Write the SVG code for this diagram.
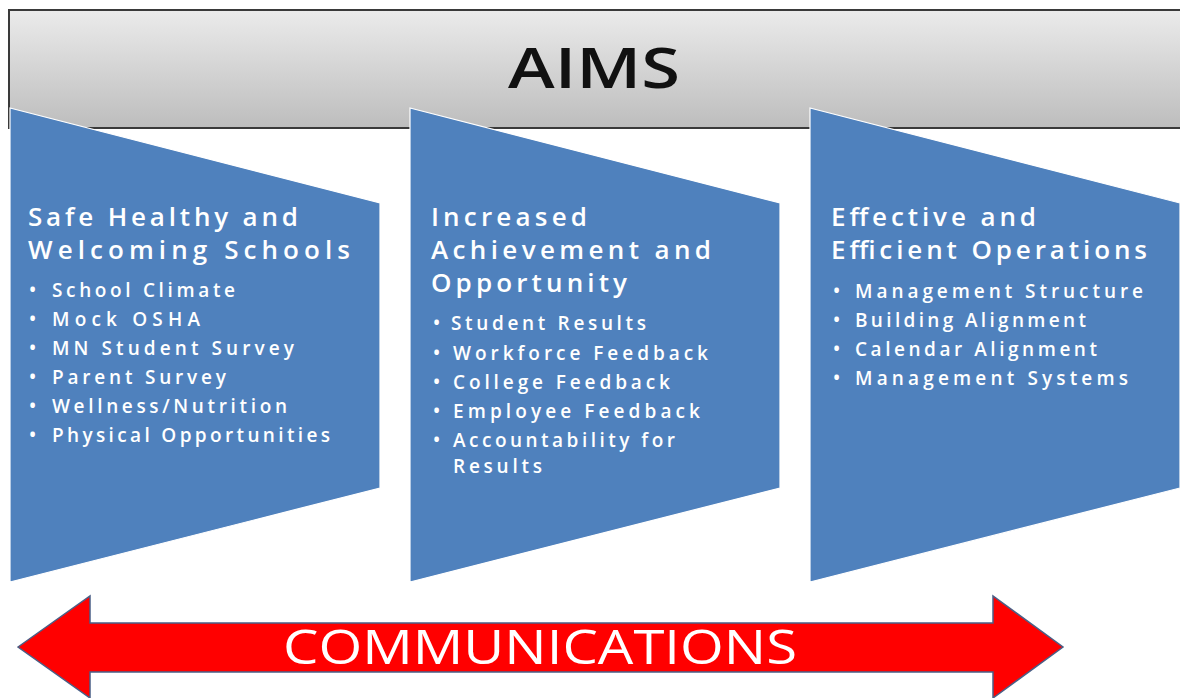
<svg xmlns="http://www.w3.org/2000/svg" width="1180" height="698" viewBox="0 0 1180 698">
  <defs>
    <linearGradient id="bannerFill" x1="0" y1="0" x2="0" y2="1">
      <stop offset="0" stop-color="#ebebeb"/>
      <stop offset="1" stop-color="#bdbdbd"/>
    </linearGradient>
    <style>
      .panel { fill: #4f81bd; stroke: #ffffff; stroke-width: 1.2; }
      .title { font-family: "Open Sans", "Liberation Sans", sans-serif; font-weight: 600; font-size: 26px; fill: #ffffff; }
      .item { font-family: "Open Sans", "Liberation Sans", sans-serif; font-weight: 600; font-size: 19px; fill: #ffffff; }
      .aims { font-family: "Open Sans", "Liberation Sans", sans-serif; font-weight: 600; font-size: 56px; fill: #111111; }
      .comm { font-family: "Open Sans", "Liberation Sans", sans-serif; font-weight: 400; font-size: 48px; fill: #ffffff; }
    </style>
  </defs>

  <rect width="1180" height="698" fill="#ffffff"/>

  <!-- header banner -->
  <g id="banner">
    <rect x="9" y="10" width="1180" height="118" fill="url(#bannerFill)" stroke="#3a3a3a" stroke-width="2"/>
    <text class="aims" x="594" y="88" text-anchor="middle" textLength="172" lengthAdjust="spacingAndGlyphs">AIMS</text>
  </g>

  <!-- panel 1 -->
  <g id="panel-safe">
    <polygon class="panel" points="10,108 380,203 380,488 10,582"/>
    <text class="title" x="28" y="226" textLength="270" lengthAdjust="spacing">Safe Healthy and</text>
    <text class="title" x="28" y="259" textLength="322" lengthAdjust="spacing">Welcoming  Schools</text>
    <g class="item">
      <text x="29" y="297">•</text><text x="52" y="297" textLength="183" lengthAdjust="spacing">School Climate</text>
      <text x="29" y="326">•</text><text x="52" y="326" textLength="148" lengthAdjust="spacing">Mock OSHA</text>
      <text x="29" y="355">•</text><text x="52" y="355" textLength="242" lengthAdjust="spacing">MN Student Survey</text>
      <text x="29" y="384">•</text><text x="52" y="384" textLength="174" lengthAdjust="spacing">Parent Survey</text>
      <text x="29" y="413">•</text><text x="52" y="413" textLength="235" lengthAdjust="spacing">Wellness/Nutrition</text>
      <text x="29" y="442">•</text><text x="52" y="442" textLength="278" lengthAdjust="spacing">Physical Opportunities</text>
    </g>
  </g>

  <!-- panel 2 -->
  <g id="panel-achievement">
    <polygon class="panel" points="410,108 780,203 780,488 410,582"/>
    <text class="title" x="431" y="226" textLength="156" lengthAdjust="spacing">Increased</text>
    <text class="title" x="431" y="259" textLength="280" lengthAdjust="spacing">Achievement and</text>
    <text class="title" x="431" y="292" textLength="196" lengthAdjust="spacing">Opportunity</text>
    <g class="item">
      <text x="433" y="330">•</text><text x="451" y="330" textLength="195" lengthAdjust="spacing">Student Results</text>
      <text x="433" y="360">•</text><text x="453" y="360" textLength="255" lengthAdjust="spacing">Workforce Feedback</text>
      <text x="433" y="389">•</text><text x="453" y="389" textLength="217" lengthAdjust="spacing">College Feedback</text>
      <text x="433" y="418">•</text><text x="453" y="418" textLength="247" lengthAdjust="spacing">Employee Feedback</text>
      <text x="433" y="447">•</text><text x="453" y="447" textLength="222" lengthAdjust="spacing">Accountability for</text>
      <text x="453" y="473" textLength="89" lengthAdjust="spacing">Results</text>
    </g>
  </g>

  <!-- panel 3 -->
  <g id="panel-operations">
    <polygon class="panel" points="810,108 1180,203 1180,488 810,582"/>
    <text class="title" x="831" y="226" textLength="205" lengthAdjust="spacing">Effective and</text>
    <text class="title" x="831" y="259" textLength="316" lengthAdjust="spacing">Efficient Operations</text>
    <g class="item">
      <text x="833" y="298">•</text><text x="855" y="298" textLength="288" lengthAdjust="spacing">Management Structure</text>
      <text x="833" y="327">•</text><text x="855" y="327" textLength="231" lengthAdjust="spacing">Building Alignment</text>
      <text x="833" y="356">•</text><text x="855" y="356" textLength="242" lengthAdjust="spacing">Calendar Alignment</text>
      <text x="833" y="385">•</text><text x="855" y="385" textLength="273" lengthAdjust="spacing">Management Systems</text>
    </g>
  </g>

  <!-- double-headed communications arrow -->
  <g id="connectors">
    <polygon points="18,647 90,596 90,623 993,623 993,596 1063,647 993,698 993,672 90,672 90,698" fill="#ff0000" stroke="#4a5f86" stroke-width="1.5" stroke-linejoin="miter"/>
    <text class="comm" x="540" y="664" text-anchor="middle" textLength="514" lengthAdjust="spacingAndGlyphs">COMMUNICATIONS</text>
  </g>
</svg>
